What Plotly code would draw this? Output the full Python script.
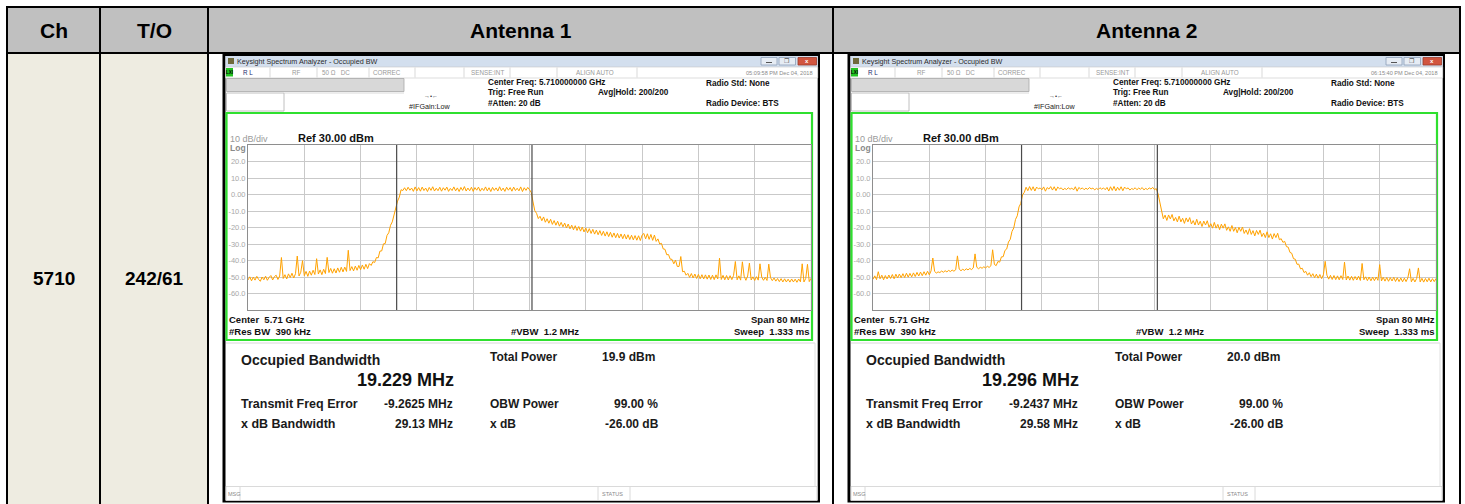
import plotly.graph_objects as go

W, H = 1465, 504

# ---------------- data ----------------
header_labels = ["Ch", "T/O", "Antenna 1", "Antenna 2"]
channel_label = "5710"
tx_output_label = "242/61"

start_mhz, stop_mhz = -40.0, 40.0          # offset from centre 5.71 GHz, span 80 MHz
n_points = 321
freq_mhz = [start_mhz + (stop_mhz - start_mhz) * k / (n_points - 1) for k in range(n_points)]

ant1_dbm = [
    -51.8, -49.9, -52.3, -50.1, -51.9, -49.6, -51.4, -52.6, -50.0, -51.7,
    -49.5, -52.0, -50.2, -49.1, -51.8, -49.8, -48.9, -51.5, -49.4, -38.2,
    -50.9, -48.6, -51.2, -48.1, -50.3, -47.7, -50.6, -48.0, -37.3, -49.4,
    -47.1, -40.1, -49.2, -46.6, -49.6, -46.4, -48.9, -45.9, -48.5, -38.9,
    -48.2, -45.7, -48.6, -45.3, -47.9, -38.1, -47.3, -44.8, -47.7, -45.0,
    -47.6, -44.5, -47.1, -44.1, -46.9, -44.0, -46.6, -33.8, -46.1, -43.7,
    -46.3, -43.4, -45.9, -43.0, -45.6, -42.7, -45.3, -42.3, -44.9, -41.9,
    -43.0, -40.7, -41.2, -38.2, -38.4, -34.3, -34.2, -29.9, -29.7, -24.8,
    -23.2, -18.7, -16.6, -12.0, -9.4, -4.0, -1.6, 2.9, 2.4, 4.1,
    2.3, 4.4, 2.6, 3.9, 1.9, 4.6, 2.2, 4.2, 2.0, 4.5,
    2.4, 3.9, 1.8, 4.3, 2.5, 4.7, 2.1, 3.8, 2.3, 4.4,
    2.0, 4.1, 2.6, 4.5, 1.9, 3.7, 2.4, 4.6, 2.2, 4.0,
    1.8, 4.3, 2.5, 4.8, 2.1, 3.9, 2.3, 4.4, 1.9, 4.2,
    2.6, 4.5, 2.0, 3.8, 2.4, 4.6, 2.2, 4.1, 1.8, 4.3,
    2.5, 4.0, 2.1, 4.7, 2.3, 3.9, 1.9, 4.4, 2.6, 4.2,
    2.0, 4.5, 2.4, 3.8, 2.2, 4.6, 1.8, 4.1, 2.5, 4.3,
    2.9, 1.2, -4.5, -9.8, -11.4, -14.6, -13.2, -15.9, -13.6, -16.8,
    -14.7, -17.4, -15.0, -18.1, -15.8, -18.6, -16.2, -19.2, -16.9, -19.6,
    -17.3, -20.3, -17.9, -20.8, -18.6, -21.4, -18.9, -21.8, -19.4, -22.2,
    -19.8, -22.7, -20.3, -23.2, -20.7, -23.6, -21.1, -24.0, -21.6, -24.4,
    -21.9, -24.8, -22.3, -25.2, -22.6, -25.5, -22.9, -25.9, -23.3, -26.2,
    -23.6, -26.4, -23.9, -26.8, -24.1, -27.0, -24.4, -27.3, -24.7, -27.5,
    -24.9, -27.7, -25.0, -27.9, -24.6, -23.6, -26.9, -23.8, -27.2, -24.2,
    -27.8, -24.6, -28.4, -26.9, -30.0, -29.6, -33.0, -33.2, -36.5, -36.4,
    -39.2, -39.3, -42.0, -39.8, -43.6, -43.6, -37.6, -46.8, -46.5, -48.9,
    -47.8, -50.2, -47.9, -50.6, -48.2, -50.9, -48.4, -51.1, -48.6, -51.2,
    -48.7, -51.3, -48.8, -51.5, -48.9, -51.6, -48.7, -51.2, -38.6, -51.5,
    -49.0, -51.7, -49.1, -51.8, -49.2, -51.6, -49.0, -40.6, -51.7, -49.3,
    -51.9, -40.8, -49.5, -52.0, -49.4, -41.6, -51.8, -49.9, -52.1, -49.8,
    -51.9, -42.0, -50.1, -52.0, -50.2, -52.1, -42.2, -50.4, -52.2, -50.6,
    -52.5, -50.9, -52.8, -51.0, -53.0, -51.1, -53.0, -51.3, -53.1, -51.2,
    -53.0, -51.3, -53.2, -51.2, -52.9, -42.0, -53.0, -50.9, -42.3, -52.8,
    -50.8,
]

ant2_dbm = [
    -51.4, -49.3, -51.6, -46.8, -51.1, -48.9, -51.7, -49.1, -51.2, -48.8,
    -50.9, -48.5, -51.1, -48.3, -50.6, -48.2, -50.4, -48.0, -50.3, -47.7,
    -50.1, -47.8, -49.9, -47.5, -49.7, -47.2, -49.4, -47.0, -49.2, -46.8,
    -48.9, -46.5, -48.7, -46.3, -38.5, -46.6, -47.6, -46.9, -47.3, -46.4,
    -47.1, -46.2, -46.9, -46.0, -46.7, -45.8, -46.5, -45.6, -37.2, -45.2,
    -46.2, -45.3, -46.0, -45.0, -45.7, -44.8, -45.5, -44.5, -36.0, -44.1,
    -45.0, -44.1, -44.7, -43.8, -44.5, -43.5, -44.2, -43.2, -33.5, -42.4,
    -43.1, -40.6, -41.0, -37.8, -37.7, -33.9, -33.0, -28.8, -27.2, -22.4,
    -20.3, -15.1, -12.9, -7.5, -5.4, -0.2, 1.3, 4.4, 2.3, 4.8,
    2.5, 4.7, 2.1, 4.5, 3.4, 4.0, 2.8, 4.6, 2.0, 4.2,
    3.3, 4.8, 2.7, 4.7, 2.3, 4.5, 3.5, 4.0, 2.8, 3.7,
    3.0, 4.1, 3.2, 3.9, 2.8, 4.7, 2.0, 4.3, 3.3, 4.0,
    2.9, 3.8, 3.1, 4.2, 3.4, 3.9, 2.8, 3.7, 3.0, 4.1,
    3.2, 4.0, 2.9, 4.3, 2.1, 4.7, 2.5, 4.9, 2.2, 4.4,
    2.6, 4.7, 2.3, 4.5, 3.4, 4.0, 2.7, 3.6, 3.1, 4.1,
    2.9, 3.9, 3.2, 4.2, 2.8, 3.7, 3.0, 4.0, 3.3, 4.3,
    2.9, 3.6, 0.5, -5.2, -9.1, -14.7, -12.5, -15.7, -12.4, -14.8,
    -12.1, -16.0, -13.9, -16.6, -13.1, -16.6, -14.4, -17.5, -14.2, -16.6,
    -14.0, -17.9, -15.8, -18.5, -15.0, -18.5, -16.2, -19.4, -16.1, -18.5,
    -15.9, -19.8, -17.7, -20.4, -16.9, -20.4, -18.1, -21.3, -18.0, -20.4,
    -17.8, -21.7, -19.6, -22.3, -18.8, -22.3, -20.0, -23.2, -19.9, -22.3,
    -19.7, -23.6, -21.5, -24.2, -20.7, -24.2, -21.9, -25.1, -21.8, -24.2,
    -21.6, -25.5, -23.4, -26.1, -22.6, -26.1, -23.8, -27.0, -23.7, -26.1,
    -23.5, -27.4, -26.8, -29.0, -28.4, -31.6, -31.9, -35.1, -35.6, -38.9,
    -39.2, -42.3, -42.2, -45.1, -44.7, -47.3, -46.6, -48.9, -47.4, -49.8,
    -48.0, -50.4, -48.3, -50.7, -48.5, -51.0, -48.6, -40.5, -48.9, -51.3,
    -49.0, -51.5, -49.1, -51.6, -49.3, -51.7, -49.2, -51.5, -41.0, -51.8,
    -49.4, -51.9, -49.6, -52.0, -49.7, -51.8, -49.5, -52.1, -41.8, -51.7,
    -49.9, -52.2, -50.0, -52.3, -50.1, -52.2, -50.0, -52.0, -42.5, -52.4,
    -50.2, -52.5, -50.3, -52.6, -50.4, -52.4, -50.2, -52.7, -50.5, -52.8,
    -50.6, -52.9, -50.7, -52.8, -50.5, -45.0, -52.9, -50.8, -53.0, -50.9,
    -44.5, -53.0, -50.8, -53.1, -50.9, -52.9, -50.7, -53.0, -51.0, -52.8,
    -50.9,
]

traces_dbm = [ant1_dbm, ant2_dbm]
timestamps = ["05:09:58 PM Dec 04, 2018", "06:15:40 PM Dec 04, 2018"]
obw_mhz = [19.229, 19.296]
total_power_dbm = [19.9, 20.0]
freq_error_mhz = [-9.2625, -9.2437]
xdb_bw_mhz = [29.13, 29.58]
obw_power_pct = [99.00, 99.00]
xdb_db = [-26.00, -26.00]

ref_level_dbm = 30.0
db_per_div = 10.0
y_tick_values = [20, 10, 0, -10, -20, -30, -40, -50, -60]
y_tick_labels = ["20.0", "10.0", "0.00", "-10.0", "-20.0", "-30.0", "-40.0", "-50.0", "-60.0"]

# ---------------- helpers ----------------
FONT = "Arial, Liberation Sans, sans-serif"
shapes = []
annotations = []


def rect(x0, y0, x1, y1, fill=None, line=None, lw=1, layer="below"):
    shapes.append(dict(type="rect", xref="x", yref="y", x0=x0, y0=y0, x1=x1, y1=y1,
                       fillcolor=fill if fill else "rgba(0,0,0,0)",
                       line=dict(color=line if line else "rgba(0,0,0,0)", width=lw if line else 0),
                       layer=layer))


def seg(x0, y0, x1, y1, color, lw=1, layer="below"):
    shapes.append(dict(type="line", xref="x", yref="y", x0=x0, y0=y0, x1=x1, y1=y1,
                       line=dict(color=color, width=lw), layer=layer))


def txt(x, y, s, size, color="#000000", bold=False, anchor="left"):
    annotations.append(dict(xref="x", yref="y", x=x, y=y, text=("<b>%s</b>" % s) if bold else s,
                            showarrow=False, xanchor=anchor, yanchor="middle",
                            font=dict(family=FONT, size=size, color=color),
                            borderpad=0))


# ---------------- table ----------------
rect(7, 7, 1460, 53, fill="#c0c0c0")
rect(7, 53, 208, 504, fill="#eeece1")
col_edges = [7, 100, 208, 833, 1460]
for i, lab in enumerate(header_labels):
    txt((col_edges[i] + col_edges[i + 1]) / 2, 30, lab, 21, bold=True, anchor="center")
txt((col_edges[0] + col_edges[1]) / 2, 278, channel_label, 19, bold=True, anchor="center")
txt((col_edges[1] + col_edges[2]) / 2, 278, tx_output_label, 19, bold=True, anchor="center")
for yy in (7, 53):
    seg(6, yy, 1461, yy, "#000000", 2, layer="above")
for xx in col_edges:
    seg(xx, 6, xx, 504, "#000000", 2, layer="above")

# ---------------- screenshots ----------------
GX0, GX1, GY0, GY1 = 248, 811, 145, 310     # graticule of antenna 1 (pixels)
DX = [0, 625]

for k, dx in enumerate(DX):
    L = 222.5 + dx
    R = 820 + dx
    rect(L, 54, R, 502.5, fill="#000000")
    rect(225.5 + dx, 56, 817.7 + dx, 500.5, fill="#ffffff")
    # title bar
    rect(225.5 + dx, 56, 817.7 + dx, 67, fill="#d3dfee")
    rect(228 + dx, 58, 234 + dx, 64, fill="#6f6a3c")
    txt(236 + dx, 61.5, "Keysight Spectrum Analyzer - Occupied BW", 7.2, "#2a2a2a")
    rect(761 + dx, 57.5, 777 + dx, 65, fill="#e6ecf4", line="#8ea0b8", lw=0.8)
    rect(779 + dx, 57.5, 795.5 + dx, 65, fill="#e6ecf4", line="#8ea0b8", lw=0.8)
    rect(798 + dx, 57.5, 816.5 + dx, 65, fill="#d2553f", line="#9c3a2a", lw=0.8)
    seg(766 + dx, 62.5, 772 + dx, 62.5, "#555555", 1)
    txt(787 + dx, 61.3, "❐", 5.5, "#555555", anchor="center")
    txt(807 + dx, 61.3, "x", 6, "#ffffff", bold=True, anchor="center")
    # status row
    rect(225.5 + dx, 67, 817.7 + dx, 78, fill="#ffffff", line="#c8c8c8", lw=0.6)
    rect(226 + dx, 68, 233 + dx, 76.5, fill="#23c423")
    txt(229.5 + dx, 72.3, "LXI", 4.5, "#000000", bold=True, anchor="center")
    for xx in (270, 317, 369, 415, 464, 510, 557, 637):
        seg(xx + dx, 67.5, xx + dx, 77.5, "#c8c8c8", 0.7)
    txt(242 + dx, 72.5, "R L", 6.3, "#1e2a6e")
    txt(296 + dx, 72.5, "RF", 6.3, "#9a9a9a", anchor="center")
    txt(336 + dx, 72.5, "50 Ω   DC", 6.3, "#9a9a9a", anchor="center")
    txt(387 + dx, 72.5, "CORREC", 6.3, "#9a9a9a", anchor="center")
    txt(487 + dx, 72.5, "SENSE:INT", 6.3, "#9a9a9a", anchor="center")
    txt(595 + dx, 72.5, "ALIGN AUTO", 6.3, "#9a9a9a", anchor="center")
    txt(814 + dx, 72.5, timestamps[k], 5.6, "#8a8a8a", anchor="right")
    # info rows
    rect(226.5 + dx, 78.5, 404 + dx, 91.5, fill="#d8d8d8", line="#a8a8a8", lw=0.8)
    rect(226.5 + dx, 93, 284 + dx, 111, fill="#ffffff", line="#b0b0b0", lw=0.8)
    seg(284 + dx, 93, 404 + dx, 93, "#d0d0d0", 0.8)
    txt(487 + dx, 82.5, "Center Freq: 5.710000000 GHz", 8.2, "#111111", bold=True)
    txt(487 + dx, 92.7, "Trig: Free Run", 8.2, "#111111", bold=True)
    txt(597 + dx, 92.7, "Avg|Hold: 200/200", 8.2, "#111111", bold=True)
    txt(487 + dx, 103, "#Atten: 20 dB", 8.2, "#111111", bold=True)
    txt(408 + dx, 106, "#IFGain:Low", 7.2, "#222222")
    txt(431 + dx, 95.5, "→•←", 6, "#333333", anchor="center")
    txt(705 + dx, 83, "Radio Std: None", 8.2, "#111111", bold=True)
    txt(705 + dx, 103, "Radio Device: BTS", 8.2, "#111111", bold=True)
    # green measurement box
    rect(226.5 + dx, 113, 812 + dx, 340, fill="#ffffff", line="#2fe02f", lw=2.2)
    txt(229 + dx, 138.5, "10 dB/div", 9, "#9a9a9a")
    txt(297 + dx, 138, "Ref %.2f dBm" % ref_level_dbm, 11, "#111111", bold=True)
    txt(229 + dx, 147.5, "Log", 8.5, "#8a8a8a", bold=True)
    txt(228 + dx, 319, "Center  5.71 GHz", 9.5, "#111111", bold=True)
    txt(228 + dx, 331, "#Res BW  390 kHz", 9.5, "#111111", bold=True)
    txt(510 + dx, 331, "#VBW  1.2 MHz", 9.5, "#111111", bold=True)
    txt(811 + dx, 319, "Span %d MHz" % (stop_mhz - start_mhz), 9.5, "#111111", bold=True, anchor="right")
    txt(811 + dx, 331, "Sweep  1.333 ms", 9.5, "#111111", bold=True, anchor="right")
    # results panel
    seg(226 + dx, 343, 815 + dx, 343, "#d8d8d8", 1)
    seg(815 + dx, 343, 815 + dx, 486, "#e0e0e0", 1)
    txt(240 + dx, 359.5, "Occupied Bandwidth", 14, "#1a1a1a", bold=True)
    txt(405 + dx, 380, "%.3f MHz" % obw_mhz[k], 18, "#111111", bold=True, anchor="center")
    txt(489 + dx, 357, "Total Power", 12, "#1a1a1a", bold=True)
    txt(601 + dx, 357, "%.1f dBm" % total_power_dbm[k], 12, "#1a1a1a", bold=True)
    txt(240 + dx, 404, "Transmit Freq Error", 12.5, "#1a1a1a", bold=True)
    txt(454 + dx, 404, "%.4f MHz" % freq_error_mhz[k], 12, "#1a1a1a", bold=True, anchor="right")
    txt(489 + dx, 404, "OBW Power", 12, "#1a1a1a", bold=True)
    txt(659 + dx, 404, "%.2f %%" % obw_power_pct[k], 12, "#1a1a1a", bold=True, anchor="right")
    txt(240 + dx, 424, "x dB Bandwidth", 12.5, "#1a1a1a", bold=True)
    txt(454 + dx, 424, "%.2f MHz" % xdb_bw_mhz[k], 12, "#1a1a1a", bold=True, anchor="right")
    txt(489 + dx, 424, "x dB", 12, "#1a1a1a", bold=True)
    txt(660 + dx, 424, "%.2f dB" % xdb_db[k], 12, "#1a1a1a", bold=True, anchor="right")
    # message bar
    rect(226 + dx, 486.5, 817 + dx, 500.5, fill="#ffffff", line="#d0d0d0", lw=0.8)
    seg(240 + dx, 487, 240 + dx, 500, "#d0d0d0", 0.8)
    seg(598 + dx, 487, 598 + dx, 500, "#d0d0d0", 0.8)
    seg(630 + dx, 487, 630 + dx, 500, "#d0d0d0", 0.8)
    txt(227 + dx, 493.5, "MSG", 5.5, "#8a8a8a")
    txt(601 + dx, 493.5, "STATUS", 5.5, "#8a8a8a")

# ---------------- figure ----------------
fig = go.Figure()
fig.add_trace(go.Scatter(x=[0, W], y=[0, H], mode="markers", marker=dict(opacity=0),
                         hoverinfo="skip", showlegend=False, xaxis="x", yaxis="y"))

layout_axes = {}
for k, dx in enumerate(DX):
    ax = str(k + 2)
    fig.add_trace(go.Scatter(x=freq_mhz, y=traces_dbm[k], mode="lines",
                             line=dict(color="#ffa200", width=1.0),
                             xaxis="x" + ax, yaxis="y" + ax, showlegend=False,
                             hoverinfo="skip"))
    layout_axes["xaxis" + ax] = dict(
        domain=[(GX0 + dx) / W, (GX1 + dx) / W], range=[start_mhz, stop_mhz],
        tick0=start_mhz, dtick=(stop_mhz - start_mhz) / 10, showgrid=True,
        gridcolor="#c9c9c9", gridwidth=1, zeroline=False, showticklabels=False, ticks="",
        showline=True, linecolor="#8e8e8e", linewidth=1, mirror=True, anchor="y" + ax,
        fixedrange=True)
    layout_axes["yaxis" + ax] = dict(
        domain=[1 - GY1 / H, 1 - GY0 / H],
        range=[ref_level_dbm - 10 * db_per_div, ref_level_dbm],
        tickvals=y_tick_values, ticktext=y_tick_labels, showgrid=True,
        gridcolor="#c9c9c9", gridwidth=1, zeroline=False, ticks="",
        tickfont=dict(family=FONT, size=7.5, color="#a8a8a8"),
        showline=True, linecolor="#8e8e8e", linewidth=1, mirror=True, anchor="x" + ax,
        fixedrange=True)
    lo = freq_error_mhz[k] - obw_mhz[k] / 2
    hi = freq_error_mhz[k] + obw_mhz[k] / 2
    for f in (lo, hi):
        shapes.append(dict(type="line", xref="x" + ax, yref="y" + ax + " domain",
                           x0=f, x1=f, y0=0, y1=1.0,
                           line=dict(color="#4a4a4a", width=1.2), layer="above"))

fig.update_layout(
    width=W, height=H, margin=dict(l=0, r=0, t=0, b=0),
    paper_bgcolor="#ffffff", plot_bgcolor="rgba(0,0,0,0)",
    xaxis=dict(domain=[0, 1], range=[0, W], visible=False, fixedrange=True),
    yaxis=dict(domain=[0, 1], range=[H, 0], visible=False, fixedrange=True),
    shapes=shapes, annotations=annotations, showlegend=False,
    **layout_axes,
)

fig.write_html("out.html", config={"displayModeBar": False},
               post_script="document.body.style.margin='0px';document.body.style.overflow='hidden';")
